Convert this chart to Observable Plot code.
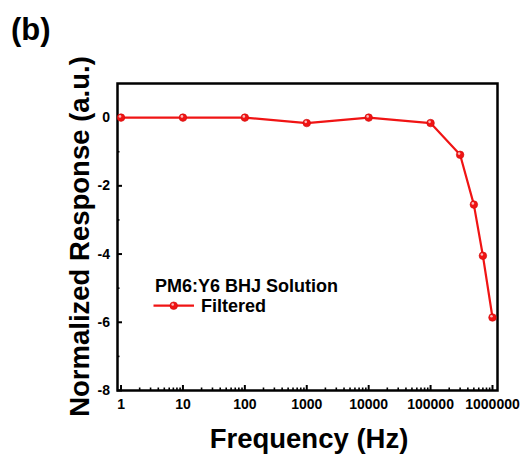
<!DOCTYPE html>
<html>
<head>
<meta charset="utf-8">
<script src="https://cdn.jsdelivr.net/npm/d3@7"></script>
<script src="https://cdn.jsdelivr.net/npm/@observablehq/plot@0.6"></script>
<style>
  html, body { margin: 0; padding: 0; background: #fff; }
  #chart svg { display: block; }
</style>
</head>
<body>
<div id="chart"></div>
<script>
// ---- data ----
const frequency = [1, 10, 100, 1000, 10000, 100000, 300000, 500000, 700000, 1000000];
const response  = [0, 0, 0, -0.16, 0, -0.16, -1.09, -2.55, -4.05, -5.86];
const xTickValues = [1, 10, 100, 1000, 10000, 100000, 1000000];
const yTickValues = [0, -2, -4, -6, -8];
const yMinorTickValues = [-1, -3, -5, -7];
const seriesName = "Filtered";
const legendTitle = "PM6:Y6 BHJ Solution";
const panelLabel = "(b)";
const xTitle = "Frequency (Hz)";
const yTitle = "Normalized Response (a.u.)";

const rows = frequency.map((f, i) => ({f, r: response[i]}));
const xMinorTickValues = d3.scaleLog().domain([1, 1e6]).ticks().filter(v => !xTickValues.includes(v));

const W = 527, H = 455;
const mL = 117, mR = 30, mT = 83, mB = 65;
const plotH = H - mT - mB, plotW = W - mL - mR;
const red = "#f01414";
const redDark = "#d00c0c";
const font = "'Liberation Sans', Arial, sans-serif";

const chart = Plot.plot({
  width: W,
  height: H,
  marginLeft: mL,
  marginRight: mR,
  marginTop: mT,
  marginBottom: mB,
  style: {fontFamily: font, background: "#fff", color: "#000", overflow: "visible"},
  x: {type: "log", domain: [0.877, 1.205e6]},
  y: {domain: [-8, 1]},
  marks: [
    // inward ticks
    Plot.ruleX(xTickValues, {x: d => d, insetTop: plotH - 5, stroke: "#000", strokeWidth: 2}),
    Plot.ruleX(xMinorTickValues, {x: d => d, insetTop: plotH - 2.5, stroke: "#000", strokeWidth: 1.6}),
    Plot.ruleY(yTickValues, {y: d => d, insetRight: plotW - 5, stroke: "#000", strokeWidth: 2}),
    Plot.ruleY(yMinorTickValues, {y: d => d, insetRight: plotW - 2.5, stroke: "#000", strokeWidth: 1.6}),
    Plot.axisX({ticks: xTickValues, tickSize: 0, tickPadding: 9, tickFormat: d => String(d),
      label: null, fontSize: 14, fontWeight: "bold", fill: "#000"}),
    Plot.axisY({ticks: yTickValues, tickSize: 0, tickPadding: 7.5, tickFormat: d => String(d),
      label: null, fontSize: 14, fontWeight: "bold", fill: "#000"}),
    Plot.frame({stroke: "#000", strokeWidth: 2.5}),
    Plot.line(rows, {x: "f", y: "r", stroke: red, strokeWidth: 2.2}),
    Plot.dot(rows, {x: "f", y: "r", r: 3.8, fill: red, stroke: redDark, strokeWidth: 0.6}),
    Plot.dot(rows, {x: "f", y: "r", r: 1.3, dx: -1, dy: -1.2, fill: "#fff", fillOpacity: 0.7, stroke: "none"})
  ]
});

document.getElementById("chart").appendChild(chart);

// titles and legend
const svg = d3.select(chart);
const g = svg.append("g").attr("font-family", font).attr("font-weight", "bold").attr("fill", "#000");

g.append("text").attr("x", 11).attr("y", 40).attr("text-anchor", "start").attr("font-size", 31).text(panelLabel);

g.append("text")
  .attr("x", mL + plotW / 2 + 2).attr("y", 447.5)
  .attr("text-anchor", "middle").attr("font-size", 27.5).text(xTitle);

g.append("text")
  .attr("transform", `translate(88.5, ${mT + plotH / 2}) rotate(-90)`)
  .attr("text-anchor", "middle").attr("font-size", 27.5).text(yTitle);

// legend
g.append("text").attr("x", 155).attr("y", 291.5).attr("text-anchor", "start").attr("font-size", 18).text(legendTitle);
g.append("line").attr("x1", 153.5).attr("x2", 194).attr("y1", 305.7).attr("y2", 305.7)
  .attr("stroke", red).attr("stroke-width", 2.2);
g.append("circle").attr("cx", 173.7).attr("cy", 305.7).attr("r", 3.8).attr("fill", red)
  .attr("stroke", redDark).attr("stroke-width", 0.6);
g.append("circle").attr("cx", 172.7).attr("cy", 304.5).attr("r", 1.3).attr("fill", "#fff").attr("fill-opacity", 0.7);
g.append("text").attr("x", 201).attr("y", 312.3).attr("text-anchor", "start").attr("font-size", 18).text(seriesName);
</script>
</body>
</html>
